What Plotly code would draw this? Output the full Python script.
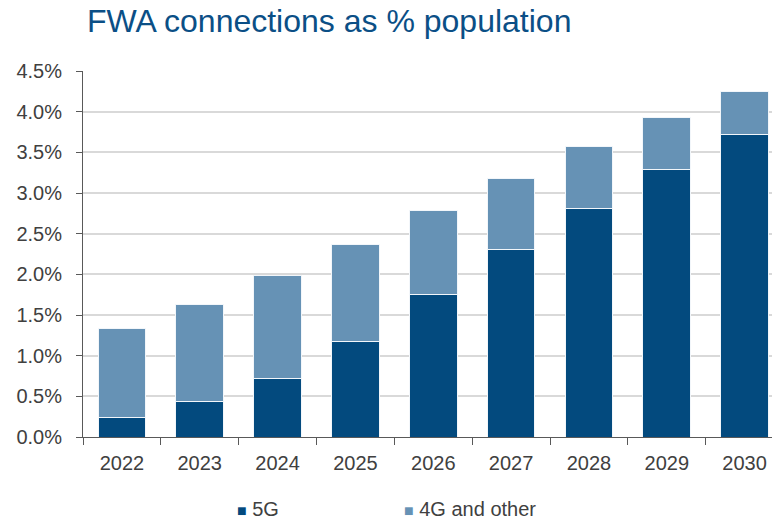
import plotly.graph_objects as go

years = ["2022", "2023", "2024", "2025", "2026", "2027", "2028", "2029", "2030"]
share_5g = [0.24, 0.44, 0.72, 1.18, 1.755, 2.30, 2.815, 3.29, 3.72]
share_total = [1.335, 1.632, 1.98, 2.367, 2.78, 3.18, 3.57, 3.93, 4.25]
share_4g = [round(t - f, 3) for t, f in zip(share_total, share_5g)]

y_ticks = [0, 0.5, 1.0, 1.5, 2.0, 2.5, 3.0, 3.5, 4.0, 4.5]
y_tick_text = [f"{v:.1f}%" for v in y_ticks]

COL_5G = "#034A7E"
COL_4G = "#6692B5"
FONT = "Liberation Sans, Arial, sans-serif"

fig = go.Figure()
fig.add_bar(x=years, y=share_5g, name="5G", marker=dict(color=COL_5G, line=dict(color="#F2F6FA", width=1)))
fig.add_bar(x=years, y=share_4g, name="4G and other", marker=dict(color=COL_4G, line=dict(color="#F2F6FA", width=1)))

fig.update_layout(
    width=772, height=519,
    barmode="stack", bargap=0.387,
    plot_bgcolor="white", paper_bgcolor="white",
    margin=dict(l=83, r=0, t=71, b=82),
    showlegend=False,
    font=dict(family=FONT, size=20, color="#404040"),
    title=dict(text="FWA connections as % population", font=dict(family=FONT, size=32, color="#0B4F86"),
               xref="container", x=87 / 772, xanchor="left",
               yref="container", y=1 - 21 / 519, yanchor="middle"),
)

fig.update_xaxes(
    type="category", range=[-0.5, 8.352],
    showline=True, linecolor="#595959", linewidth=1,
    ticks="outside", tickson="boundaries", ticklen=7, tickcolor="#595959",
    showgrid=False, ticklabelstandoff=8,
    tickfont=dict(size=20, color="#404040"),
)
fig.update_yaxes(
    range=[0, 4.5], tickvals=y_ticks, ticktext=y_tick_text,
    showline=True, linecolor="#595959", linewidth=1,
    ticks="outside", ticklen=6, tickcolor="#595959",
    showgrid=True, gridcolor="#D9D9D9", gridwidth=1.5,
    ticklabelstandoff=10, zeroline=False,
    tickfont=dict(size=20, color="#404040"),
)

# legend drawn as annotations beneath the axis
legend_items = [("5G", COL_5G, 235), ("4G and other", COL_4G, 402)]
for label, col, px in legend_items:
    fig.add_annotation(
        xref="paper", yref="paper", x=(px - 83) / 689, y=-(509 - 437) / 366,
        xanchor="left", yanchor="middle", showarrow=False,
        text=f"<span style='color:{col};font-size:16px'>■</span> {label}",
        font=dict(family=FONT, size=20, color="#404040"),
    )

fig.write_html("out.html")
